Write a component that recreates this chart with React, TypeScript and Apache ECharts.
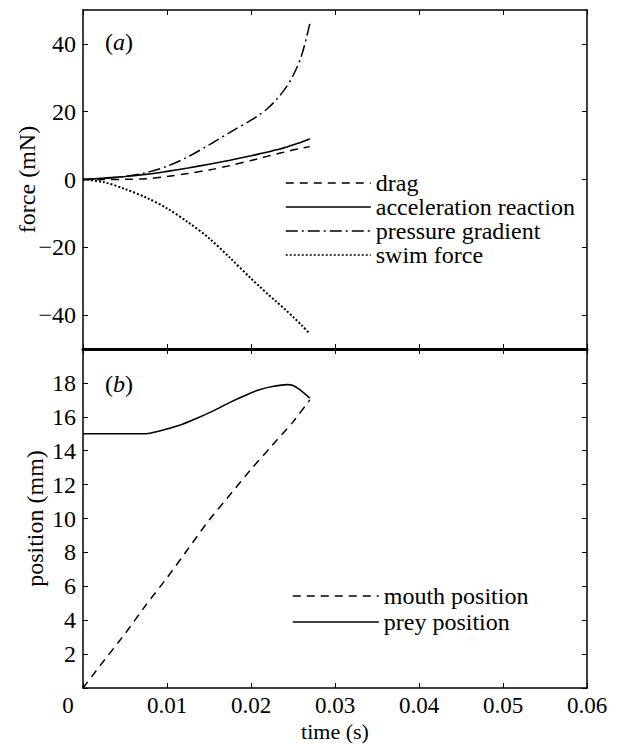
import React, { useEffect, useRef } from "react";
import * as echarts from "echarts";

// ---- panel (a): forces (mN) vs time (s) ----
const forceTime = [0, 0.0025, 0.005, 0.0075, 0.01, 0.0125, 0.015, 0.0175, 0.02, 0.021, 0.022, 0.023, 0.024, 0.025, 0.026, 0.027];
const drag = [0, 0, 0.05, 0.2, 0.9, 1.8, 2.8, 4.1, 5.6, 6.2, 6.9, 7.5, 8.1, 8.7, 9.2, 9.7];
const accelReaction = [0, 0.4, 0.9, 1.5, 2.4, 3.4, 4.5, 5.7, 7.0, 7.55, 8.1, 8.75, 9.4, 10.2, 11.0, 12.0];
const pressureGradient = [0, 0.3, 0.9, 2.0, 3.9, 6.7, 10.2, 13.9, 17.5, 19.1, 21.0, 23.5, 26.6, 30.6, 36.4, 45.9];
const swimForce = [0, -0.8, -2.8, -5.3, -8.5, -12.6, -17.3, -23.1, -29.2, -31.5, -33.8, -36.0, -38.2, -40.5, -42.9, -45.5];

// ---- panel (b): positions (mm) vs time (s) ----
const mouthTime = [0, 0.002, 0.005, 0.0075, 0.01, 0.0125, 0.015, 0.0175, 0.02, 0.0225, 0.025, 0.027];
const mouthPosition = [0, 1.3, 3.2, 4.9, 6.5, 8.2, 9.9, 11.4, 12.9, 14.3, 15.7, 17.0];
const preyTime = [0, 0.0075, 0.009, 0.0115, 0.0135, 0.0155, 0.0175, 0.0195, 0.021, 0.0227, 0.0243, 0.025, 0.0258, 0.027];
const preyPosition = [15, 15, 15.15, 15.5, 15.9, 16.35, 16.85, 17.3, 17.6, 17.8, 17.9, 17.85, 17.6, 17.1];

// ---- axes ----
const forceTicks = [-40, -20, 0, 20, 40];
const legendTop = ["drag", "acceleration reaction", "pressure gradient", "swim force"];
const legendBottom = ["mouth position", "prey position"];

const FONT = "Liberation Serif";
const FS = 24;

const pairs = (xs: number[], ys: number[]) => xs.map((x, i) => [x, ys[i]]);

const baseLine = (width = 1.5) => ({ show: true, onZero: false, lineStyle: { color: "#000", width } });
const baseTick = { show: true, inside: true, length: 5, lineStyle: { color: "#000", width: 1 } };
const labelStyle = { color: "#000", fontFamily: FONT, fontSize: FS };
const italic = { fontStyle: "italic", fontFamily: FONT, fontSize: FS, color: "#000" };

export default function App() {
  const ref = useRef<HTMLDivElement>(null);
  useEffect(() => {
    if (!ref.current) return;
    const chart = echarts.init(ref.current, undefined, { renderer: "svg" });
    const xCommon = { type: "value", min: 0, max: 0.06, interval: 0.01, splitLine: { show: false } };
    const legendCommon = {
      orient: "vertical", padding: 0, itemHeight: 23, textStyle: labelStyle,
      lineStyle: { width: 1.5 }, itemStyle: { opacity: 0 }, selectedMode: false,
    };
    const option: any = {
      animation: false,
      grid: [
        { left: 83, top: 10, width: 504, height: 339 },
        { left: 83, top: 349, width: 504, height: 339 },
      ],
      title: [
        { text: "({i|a})", left: 105, top: 30, padding: 0, textStyle: { ...labelStyle, fontWeight: "normal", rich: { i: italic } } },
        { text: "({i|b})", left: 105, top: 372, padding: 0, textStyle: { ...labelStyle, fontWeight: "normal", rich: { i: italic } } },
      ],
      xAxis: [
        { ...xCommon, gridIndex: 0, position: "bottom", axisLine: baseLine(3), axisTick: baseTick, axisLabel: { show: false } },
        { ...xCommon, gridIndex: 0, position: "top", axisLine: baseLine(), axisTick: baseTick, axisLabel: { show: false } },
        {
          ...xCommon, gridIndex: 1, position: "bottom", axisLine: baseLine(), axisTick: baseTick,
          name: "time (s)", nameLocation: "middle", nameGap: 32.5, nameMoveOverlap: false,
          nameTextStyle: { ...labelStyle, fontSize: 22 },
          axisLabel: {
            ...labelStyle, fontSize: 23, margin: 5.5,
            formatter: (v: number) => (Math.abs(v) < 1e-9 ? "{z|0}" : String(+v.toFixed(2))),
            rich: { z: { fontFamily: FONT, fontSize: 23, color: "#000", padding: [0, 30, 0, 0] } },
          },
        },
        { ...xCommon, gridIndex: 1, position: "top", axisLine: baseLine(), axisTick: baseTick, axisLabel: { show: false } },
      ],
      yAxis: [
        {
          type: "value", gridIndex: 0, position: "left", min: -50, max: 50, splitLine: { show: false },
          axisLine: baseLine(), axisTick: { ...baseTick, customValues: forceTicks },
          axisLabel: { ...labelStyle, margin: 7, customValues: forceTicks, formatter: (v: number) => (v < 0 ? "\u2212" + -v : String(v)) },
          name: "force (mN)", nameLocation: "middle", nameGap: 44, nameMoveOverlap: false, nameTextStyle: labelStyle,
        },
        {
          type: "value", gridIndex: 0, position: "right", min: -50, max: 50, splitLine: { show: false },
          axisLine: baseLine(), axisTick: { ...baseTick, customValues: forceTicks }, axisLabel: { show: false },
        },
        {
          type: "value", gridIndex: 1, position: "left", min: 0, max: 20, interval: 2, splitLine: { show: false },
          axisLine: baseLine(), axisTick: baseTick,
          axisLabel: { ...labelStyle, margin: 7, formatter: (v: number) => (v === 0 || v === 20 ? "" : String(v)) },
          name: "position (mm)", nameLocation: "middle", nameGap: 36, nameMoveOverlap: false, nameTextStyle: labelStyle,
        },
        {
          type: "value", gridIndex: 1, position: "right", min: 0, max: 20, interval: 2, splitLine: { show: false },
          axisLine: baseLine(), axisTick: baseTick, axisLabel: { show: false },
        },
      ],
      legend: [
        { ...legendCommon, data: legendTop, left: 285, top: 171, itemGap: 0, itemWidth: 85, itemTextGap: 11 },
        { ...legendCommon, data: legendBottom, left: 292, top: 584, itemGap: 2, itemWidth: 86, itemTextGap: 15 },
      ],
      series: [
        { type: "line", name: "drag", xAxisIndex: 0, yAxisIndex: 0, data: pairs(forceTime, drag), symbol: "none", smooth: 0.3, lineStyle: { color: "#000", width: 1.5, type: [8, 6] } },
        { type: "line", name: "acceleration reaction", xAxisIndex: 0, yAxisIndex: 0, data: pairs(forceTime, accelReaction), symbol: "none", smooth: 0.3, lineStyle: { color: "#000", width: 1.6, type: "solid" } },
        { type: "line", name: "pressure gradient", xAxisIndex: 0, yAxisIndex: 0, data: pairs(forceTime, pressureGradient), symbol: "none", smooth: 0.3, lineStyle: { color: "#000", width: 1.5, type: [12, 4, 2, 4] } },
        { type: "line", name: "swim force", xAxisIndex: 0, yAxisIndex: 0, data: pairs(forceTime, swimForce), symbol: "none", smooth: 0.3, lineStyle: { color: "#000", width: 2, type: [2, 2] } },
        { type: "line", name: "mouth position", xAxisIndex: 2, yAxisIndex: 2, data: pairs(mouthTime, mouthPosition), symbol: "none", smooth: 0.2, lineStyle: { color: "#000", width: 1.5, type: [8, 6] } },
        { type: "line", name: "prey position", xAxisIndex: 2, yAxisIndex: 2, data: pairs(preyTime, preyPosition), symbol: "none", smooth: 0.3, lineStyle: { color: "#000", width: 1.6, type: "solid" } },
      ],
    };
    chart.setOption(option);
    return () => chart.dispose();
  }, []);
  return (
    <div
      ref={ref}
      style={{ position: "absolute", left: 0, top: 0, width: 618, height: 744, background: "#fff" }}
    />
  );
}
